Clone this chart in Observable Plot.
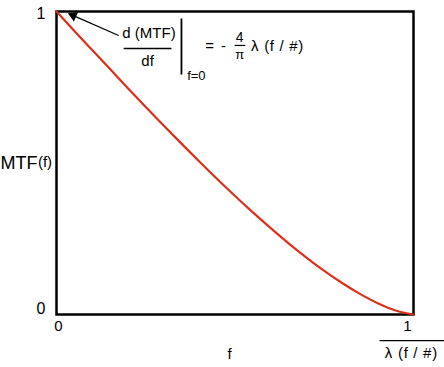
<!DOCTYPE html>
<html>
<head>
<meta charset="utf-8">
<script src="https://cdn.jsdelivr.net/npm/d3@7"></script>
<script src="https://cdn.jsdelivr.net/npm/@observablehq/plot@0.6"></script>
<style>
  html, body { margin: 0; padding: 0; background: #fff; }
  svg { display: block; }
</style>
</head>
<body>
<div id="chart"></div>
<script>
// Spatial frequency (normalised to cutoff 1/(λ f/#)) and MTF values
const freq = [0, 0.05, 0.10, 0.15, 0.20, 0.25, 0.30, 0.35, 0.40, 0.45, 0.50,
              0.55, 0.60, 0.65, 0.70, 0.75, 0.80, 0.85, 0.90, 0.95, 1.00];
const mtf  = [1.000, 0.936, 0.873, 0.810, 0.747, 0.685, 0.624, 0.564, 0.505, 0.447, 0.391,
              0.337, 0.285, 0.235, 0.188, 0.144, 0.104, 0.068, 0.037, 0.013, 0.000];
const xTicks = [0, 1];
const yTicks = [0, 1];
const xTickLabels = ["0", "1"];
const yTickLabels = ["0", "1"];

const curve = freq.map((f, i) => ({f, m: mtf[i]}));
const font = "'Liberation Sans', Arial, Helvetica, sans-serif";

const chart = Plot.plot({
  width: 444,
  height: 367,
  marginLeft: 56,
  marginRight: 31,
  marginTop: 11,
  marginBottom: 53,
  x: {domain: [0, 1]},
  y: {domain: [0, 1]},
  style: {fontFamily: font, fontSize: "15px", background: "white", color: "black", overflow: "visible"},
  marks: [
    // tick labels
    Plot.axisY([yTicks[1]], {tickSize: 0, tickPadding: 11, dy: 2, label: null, tickFormat: () => yTickLabels[1], fontSize: 16}),
    Plot.axisY([yTicks[0]], {tickSize: 0, tickPadding: 11, dy: -6, label: null, tickFormat: () => yTickLabels[0], fontSize: 16}),
    Plot.axisX([xTicks[0]], {tickSize: 0, tickPadding: 6, dx: 2, label: null, tickFormat: () => xTickLabels[0], fontSize: 15}),
    Plot.axisX([xTicks[1]], {tickSize: 0, tickPadding: 6, dx: -6, label: null, tickFormat: () => xTickLabels[1], fontSize: 15}),
    // frame
    Plot.frame({stroke: "black", strokeWidth: 2.5}),
    // MTF curve
    Plot.line(curve, {x: "f", y: "m", stroke: "#dc2f1c", strokeWidth: 2.2, curve: "catmull-rom"}),
    // axis titles
    Plot.text(["MTF"], {x: -0.053, y: 0.498, text: d => d, textAnchor: "end", fontSize: 18}),
    Plot.text(["(f)"], {x: -0.052, y: 0.502, text: d => d, textAnchor: "start", fontSize: 15}),
    Plot.text(["f"], {x: 0.485, y: -0.132, text: d => d, fontSize: 15}),
    // cutoff label under "1": 1 / (λ (f/#))
    Plot.link([0], {x1: 0.905, x2: 1.087, y1: -0.086, y2: -0.086, stroke: "black", strokeWidth: 1.2}),
    Plot.text(["λ (f / #)"], {x: 0.994, y: -0.129, text: d => d, fontSize: 15}),
    // slope annotation
    Plot.link([0], {x1: 0.174, y1: 0.921, x2: 0.052, y2: 0.984, stroke: "black", strokeWidth: 1.2}),
    Plot.dot([0], {x: 0.047, y: 0.986, symbol: "triangle", r: 3.8, fill: "black", stroke: null, rotate: -66}),
    Plot.text(["d (MTF)"], {x: 0.259, y: 0.927, text: d => d, fontSize: 15}),
    Plot.link([0], {x1: 0.188, x2: 0.322, y1: 0.878, y2: 0.878, stroke: "black", strokeWidth: 1.4}),
    Plot.text(["df"], {x: 0.255, y: 0.835, text: d => d, fontSize: 15}),
    Plot.link([0], {x1: 0.350, x2: 0.350, y1: 0.977, y2: 0.792, stroke: "black", strokeWidth: 1.8}),
    Plot.text(["f=0"], {x: 0.366, y: 0.789, text: d => d, textAnchor: "start", fontSize: 13}),
    Plot.text(["="], {x: 0.4286, y: 0.884, text: d => d, fontSize: 15}),
    Plot.text(["-"], {x: 0.468, y: 0.884, text: d => d, fontSize: 15}),
    Plot.text(["4"], {x: 0.513, y: 0.914, text: d => d, fontSize: 14}),
    Plot.link([0], {x1: 0.499, x2: 0.529, y1: 0.888, y2: 0.888, stroke: "black", strokeWidth: 1.2}),
    Plot.text(["π"], {x: 0.513, y: 0.856, text: d => d, fontSize: 13}),
    Plot.text(["λ (f / #)"], {x: 0.545, y: 0.884, text: d => d, textAnchor: "start", fontSize: 15})
  ]
});
d3.select(chart).selectAll("text")
  .filter(function () { return this.textContent === "λ (f / #)"; })
  .style("letter-spacing", "0.7px");
document.getElementById("chart").appendChild(chart);
</script>
</body>
</html>
